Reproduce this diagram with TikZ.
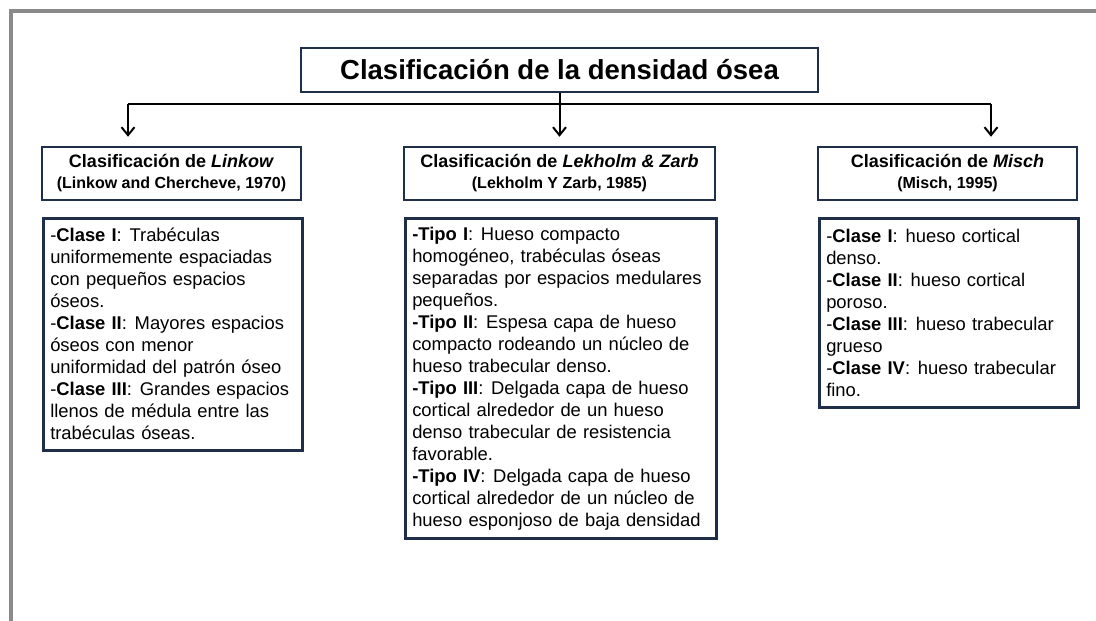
\documentclass[tikz,border=0pt]{standalone}
\usepackage{fontspec}
\setmainfont{Liberation Sans}
\usetikzlibrary{arrows.meta}
\definecolor{boxline}{HTML}{1F2F4A}
\definecolor{frameline}{HTML}{8A8A8A}
\newcommand{\headfontA}{\fontsize{18}{21}\selectfont\bfseries}
\newcommand{\headfontB}{\fontsize{16}{21}\selectfont\bfseries}
\newcommand{\bodyfont}{\fontsize{18.4}{22}\selectfont\hyphenpenalty=10000\relax}
\newcommand{\gap}{\hspace{0.42em}}

\begin{document}
\begin{tikzpicture}[x=1pt,y=-1pt,
                        framestroke/.style={draw=frameline,line width=3.5pt},
                        titlebox/.style={draw=boxline,line width=2.5pt,inner sep=0pt,
                            minimum width=517pt,minimum height=44pt,
                            font=\fontsize{27.5}{30}\selectfont\bfseries},
                        headbox/.style={draw=boxline,line width=2.5pt,inner sep=0pt,
                            minimum height=53pt,align=center,font=\headfontA},
                        bodybox/.style={draw=boxline,line width=2.5pt,anchor=north west,
                            inner xsep=7pt,inner ysep=0pt,align=left,font=\bodyfont},
                        link/.style={line width=2pt,black},
                        linkarrow/.style={link,-{Straight Barb[length=8pt,width=13pt]},shorten >=9pt}]

                        \useasboundingbox (0,0) rectangle (1096,621);
                        \draw[framestroke] (11,621) -- (11,11) -- (1096,11);

                        \node[titlebox] (title) at (559.5,70) {Clasificación de la densidad ósea};

                        \node[headbox,minimum width=259pt] (linkowHead) at (171.5,173.5)
                            {Clasificación de \textit{Linkow}\\
                             {\headfontB (Linkow and Chercheve, 1970)}};
                        \node[headbox,minimum width=311pt] (lekHead) at (559.5,173.5)
                            {Clasificación de \textit{Lekholm \& Zarb}\\
                             {\headfontB (Lekholm Y Zarb, 1985)}};
                        \node[headbox,minimum width=259pt] (mischHead) at (947.5,173.5)
                            {Clasificación de \textit{Misch}\\
                             {\headfontB (Misch, 1995)}};

                        \node[bodybox,text width=245pt,minimum height=232pt] (linkowBody) at (42,217)
                            {-\textbf{Clase I}:\gap Trabéculas\\
                             uniformemente espaciadas\\
                             con pequeños espacios\\
                             óseos.\\
                             -\textbf{Clase II}:\gap Mayores espacios\\
                             óseos con menor\\
                             uniformidad del patrón óseo\\
                             -\textbf{Clase III}:\gap Grandes espacios\\
                             llenos de médula entre las\\
                             trabéculas óseas.};

                        \node[bodybox,text width=297pt,minimum height=320pt] (lekBody) at (404,217)
                            {\textbf{-Tipo I}:\gap Hueso compacto\\
                             homogéneo, trabéculas óseas\\
                             separadas por espacios medulares\\
                             pequeños.\\
                             \textbf{-Tipo II}:\gap Espesa capa de hueso\\
                             compacto rodeando un núcleo de\\
                             hueso trabecular denso.\\
                             \textbf{-Tipo III}:\gap Delgada capa de hueso\\
                             cortical alrededor de un hueso\\
                             denso trabecular de resistencia\\
                             favorable.\\
                             \textbf{-Tipo IV}:\gap Delgada capa de hueso\\
                             cortical alrededor de un núcleo de\\
                             hueso esponjoso de baja densidad};

                        \node[bodybox,text width=245pt,minimum height=189pt] (mischBody) at (818,217)
                            {-\textbf{Clase I}:\gap hueso cortical\\
                             denso.\\
                             -\textbf{Clase II}:\gap hueso cortical\\
                             poroso.\\
                             -\textbf{Clase III}:\gap hueso trabecular\\
                             grueso\\
                             -\textbf{Clase IV}:\gap hueso trabecular\\
                             fino.};

                        \coordinate (busL) at (128,104);
                        \coordinate (busR) at (991,104);
                        \draw[link] (busL) -- (busR);
                        \draw[linkarrow] (title.south) -- (lekHead.north);
                        \draw[linkarrow] (busL) -- (busL |- linkowHead.north);
                        \draw[linkarrow] (busR) -- (busR |- mischHead.north);
                    \end{tikzpicture}
\end{document}
